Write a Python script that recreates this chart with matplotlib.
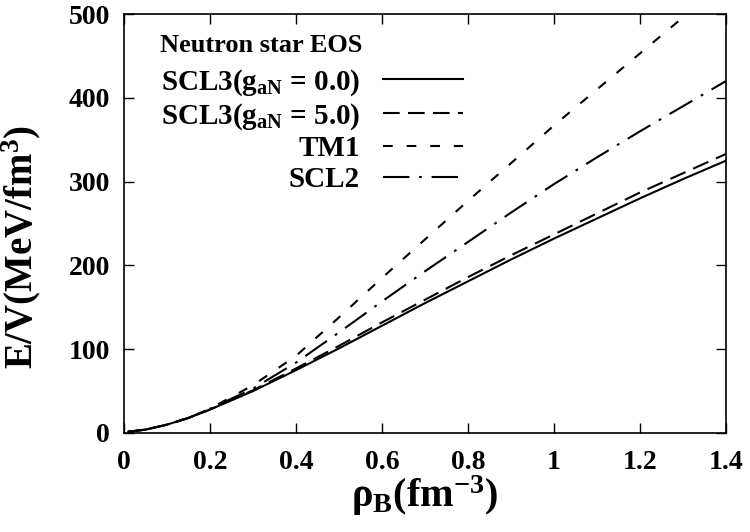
import matplotlib
matplotlib.use("Agg")
import matplotlib.pyplot as plt

plt.rcParams['font.family'] = ['Liberation Serif', 'DejaVu Serif']
plt.rcParams['font.weight'] = 'bold'
plt.rcParams['mathtext.fontset'] = 'custom'
plt.rcParams['mathtext.rm'] = 'Liberation Serif:bold'
plt.rcParams['mathtext.it'] = 'Liberation Serif:bold'
plt.rcParams['mathtext.bf'] = 'Liberation Serif:bold'
plt.rcParams['lines.scale_dashes'] = False

rho = [0.01, 0.05, 0.1, 0.15, 0.2, 0.3, 0.4, 0.5, 0.6, 0.7, 0.8, 0.9, 1.0, 1.1, 1.2, 1.3, 1.4]
scl3_g0 = [1.5, 4, 10, 18, 28, 50, 75, 101, 128, 155, 181, 207, 232, 256, 280, 303, 325]
scl3_g5 = [1.5, 4, 10, 18, 28, 51, 77, 104, 132, 159, 186, 212, 237, 262, 287, 310, 333]
tm1 = [1.5, 4, 10, 18, 29, 57, 92, 138, 185, 231, 277, 322, 367, 410, 453, 496, 538]
scl2 = [1.5, 4, 10, 18, 29, 53, 84, 120, 157, 193, 228, 263, 297, 329, 360, 390, 420]

labels = [r"SCL3(g$_\mathbf{aN}$ = 0.0)", r"SCL3(g$_\mathbf{aN}$ = 5.0)", "TM1", "SCL2"]
legend_title = "Neutron star EOS"
xticks = [0, 0.2, 0.4, 0.6, 0.8, 1.0, 1.2, 1.4]
xticklabels = ["0", "0.2", "0.4", "0.6", "0.8", "1", "1.2", "1.4"]
yticks = [0, 100, 200, 300, 400, 500]

fig = plt.figure(figsize=(7.5, 5.32), dpi=100)
ax = fig.add_axes([124/750, 1-433/532, 602/750, 419/532])

lw = 1.5
ax.plot(rho, scl3_g0, color='black', lw=lw, linestyle='-', label=labels[0])
ax.plot(rho, scl3_g5, color='black', lw=lw, linestyle=(0, (12, 6)), label=labels[1])
ax.plot(rho, tm1, color='black', lw=lw, linestyle=(0, (7, 10)), label=labels[2])
ax.plot(rho, scl2, color='black', lw=lw, linestyle=(0, (19, 7, 2, 7)), label=labels[3])

ax.set_xlim(0, 1.4)
ax.set_ylim(0, 500)
ax.set_xticks(xticks)
ax.set_xticklabels(xticklabels)
ax.set_yticks(yticks)
ax.tick_params(axis='both', direction='in', length=7, width=1, top=True, right=True,
               labelsize=20)
ax.tick_params(axis='x', pad=12)
ax.tick_params(axis='y', pad=10)
for lab in ax.get_xticklabels() + ax.get_yticklabels():
    lab.set_fontweight('bold')
for s in ax.spines.values():
    s.set_linewidth(1.2)

ax.set_xlabel("ρ$_\\mathbf{B}$(fm$^\\mathbf{-3}$)", fontsize=29, fontweight='bold', labelpad=-1)
ax.set_ylabel("E/V(MeV/fm$^\\mathbf{3}$)", fontsize=28, fontweight='bold')
ax.yaxis.set_label_coords(-0.135, 0.445)

# legend title as separate text (gnuplot-style key title)
ax.text((160-124)/602, (433-46)/419, legend_title, transform=ax.transAxes,
        fontsize=19, fontweight='bold', ha='left', va='center')

leg = ax.legend(loc='upper right', bbox_to_anchor=((463-124)/602, (433-67)/419),
                frameon=False, markerfirst=False, fontsize=21,
                handlelength=2.74, handletextpad=0.79,
                labelspacing=0.12, borderaxespad=0, borderpad=0)
for t in leg.get_texts():
    t.set_fontweight('bold')

fig.savefig("out.png", dpi=100)
